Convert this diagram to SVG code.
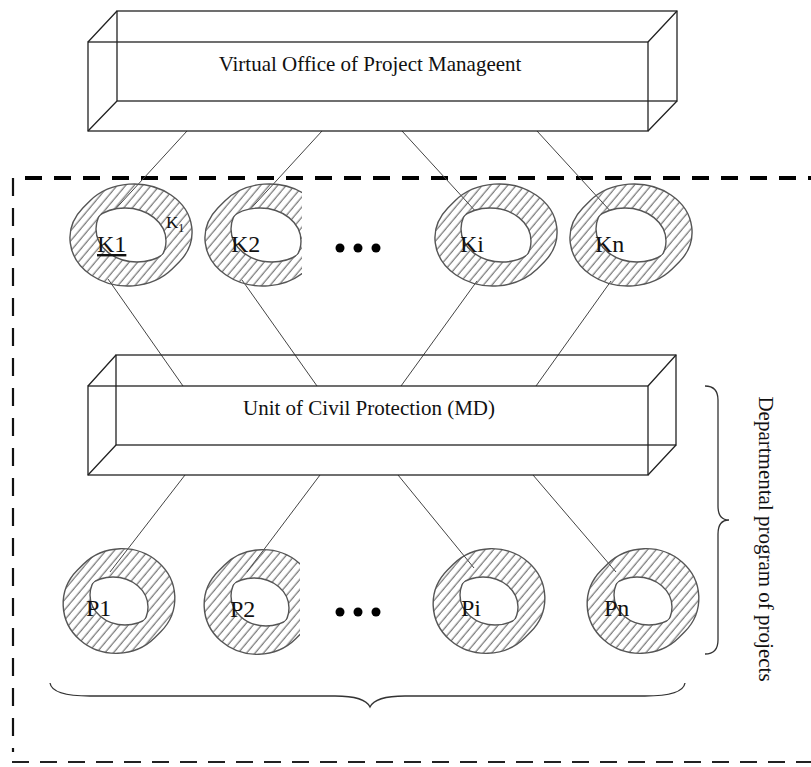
<svg xmlns="http://www.w3.org/2000/svg" width="811" height="767" viewBox="0 0 811 767">
<style>
.box{fill:none;stroke:#222;stroke-width:1.3}
.conn{stroke:#444;stroke-width:1;fill:none}
.rim{fill:url(#hatch);stroke:#555;stroke-width:1.4}
.hole{fill:#fff;stroke:#555;stroke-width:1.4}
.hline{fill:none;stroke:#555;stroke-width:1.4}
.lbl{font-family:"Liberation Serif","Times New Roman",serif;font-size:24px;fill:#111}
.ttl{font-family:"Liberation Serif","Times New Roman",serif;font-size:21px;fill:#111}
.dot{fill:#000}
.brace{fill:none;stroke:#333;stroke-width:1.3}
</style>
<defs>
<pattern id="hatch" patternUnits="userSpaceOnUse" width="6.5" height="6.5" patternTransform="rotate(40)">
<line x1="3" y1="-1" x2="3" y2="7.5" stroke="#555" stroke-width="1"/>
</pattern>
<clipPath id="cKf"><ellipse cx="-6" cy="6" rx="41" ry="33"/></clipPath>
<clipPath id="cKb"><ellipse cx="6" cy="-6" rx="41" ry="33"/></clipPath>
<clipPath id="cPf"><ellipse cx="-6" cy="6" rx="35" ry="30"/></clipPath>
<clipPath id="cPb"><ellipse cx="6" cy="-6" rx="35" ry="30"/></clipPath>
<clipPath id="cutK2"><rect x="0" y="150" width="302" height="200"/></clipPath>
<clipPath id="cutP2"><rect x="0" y="520" width="300" height="200"/></clipPath>
<g id="ringK">
<path class="rim" d="M-48.18,-27.10 L-41.18,-34.10 A58,48 0 0 1 48.18,27.10 L41.18,34.10 A58,48 0 0 1 -48.18,-27.10 Z"/>
<ellipse class="hole" cx="-6" cy="6" rx="41" ry="33" clip-path="url(#cKb)"/>
<ellipse class="hline" cx="6" cy="-6" rx="41" ry="33" clip-path="url(#cKf)"/>
</g>
<g id="ringP">
<path class="rim" d="M-41.73,-30.79 L-35.73,-36.79 A53,49.5 0 0 1 41.73,30.79 L35.73,36.79 A53,49.5 0 0 1 -41.73,-30.79 Z"/>
<ellipse class="hole" cx="-6" cy="6" rx="35" ry="30" clip-path="url(#cPb)"/>
<ellipse class="hline" cx="6" cy="-6" rx="35" ry="30" clip-path="url(#cPf)"/>
</g>
</defs>
<rect width="811" height="767" fill="#fff"/>

<g id="frame">
<line x1="25" y1="178" x2="811" y2="178" stroke="#000" stroke-width="4" stroke-dasharray="17 12"/>
<line x1="13" y1="178" x2="13" y2="752" stroke="#111" stroke-width="2.2" stroke-dasharray="18 12"/>
<line x1="12" y1="762" x2="811" y2="762" stroke="#222" stroke-width="1.8" stroke-dasharray="17 11"/>
</g>

<g id="connectors">
<line class="conn" x1="187" y1="131" x2="110" y2="215"/>
<line class="conn" x1="322" y1="131" x2="245" y2="215"/>
<line class="conn" x1="402" y1="131" x2="478" y2="214"/>
<line class="conn" x1="537" y1="131" x2="613" y2="214"/>
<line class="conn" x1="108" y1="279" x2="183" y2="386"/>
<line class="conn" x1="242" y1="280" x2="317" y2="386"/>
<line class="conn" x1="477" y1="281" x2="401" y2="386"/>
<line class="conn" x1="611" y1="281" x2="536" y2="386"/>
<line class="conn" x1="185" y1="475" x2="110" y2="572"/>
<line class="conn" x1="320" y1="475" x2="247" y2="572"/>
<line class="conn" x1="398" y1="475" x2="474" y2="568"/>
<line class="conn" x1="533" y1="475" x2="616" y2="572"/>
</g>

<g id="office">
<rect class="box" x="117" y="11" width="560" height="90"/>
<rect class="box" x="88" y="42" width="560" height="89"/>
<path class="box" d="M88,42 L117,11 M648,42 L677,11 M648,131 L677,101 M88,131 L117,101"/>
<text class="ttl" x="370" y="71" text-anchor="middle">Virtual Office of Project Manageent</text>
</g>

<g id="unit">
<rect class="box" x="116" y="355" width="560" height="90"/>
<rect class="box" x="88" y="386" width="560" height="89"/>
<path class="box" d="M88,386 L116,355 M648,386 L676,355 M648,475 L676,445 M88,475 L116,445"/>
<text class="ttl" x="369" y="415" text-anchor="middle">Unit of Civil Protection (MD)</text>
</g>

<g id="K1">
<use href="#ringK" x="131" y="235"/>
<text class="lbl" x="97" y="252" text-decoration="underline">K1</text>
<text class="lbl" x="166" y="228" style="font-size:17px">K<tspan dy="4" style="font-size:12px">1</tspan></text>
</g>
<g id="K2" clip-path="url(#cutK2)">
<use href="#ringK" x="266" y="235"/>
<text class="lbl" x="231" y="252">K2</text>
</g>
<g id="Ki">
<use href="#ringK" x="496" y="235"/>
<text class="lbl" x="460" y="252">Ki</text>
</g>
<g id="Kn">
<use href="#ringK" x="631" y="235"/>
<text class="lbl" x="595" y="252">Kn</text>
</g>
<g id="dotsK">
<circle class="dot" cx="340" cy="248" r="4.5"/>
<circle class="dot" cx="358" cy="248" r="4.5"/>
<circle class="dot" cx="376" cy="248" r="4.5"/>
</g>

<g id="P1">
<use href="#ringP" x="119" y="601"/>
<text class="lbl" x="86" y="616">P1</text>
</g>
<g id="P2" clip-path="url(#cutP2)">
<use href="#ringP" x="260" y="602"/>
<text class="lbl" x="230" y="617">P2</text>
</g>
<g id="Pi">
<use href="#ringP" x="489" y="601"/>
<text class="lbl" x="461" y="616">Pi</text>
</g>
<g id="Pn">
<use href="#ringP" x="643" y="601"/>
<text class="lbl" x="604" y="616">Pn</text>
</g>
<g id="dotsP">
<circle class="dot" cx="340" cy="612" r="4.5"/>
<circle class="dot" cx="358" cy="612" r="4.5"/>
<circle class="dot" cx="376" cy="612" r="4.5"/>
</g>

<g id="braceRight">
<path class="brace" d="M705,386 Q718,386 718,400 L718,506 Q718,520 729,520 Q718,520 718,534 L718,640 Q718,654 705,654"/>
<text class="ttl" transform="translate(759,539) rotate(90)" text-anchor="middle">Departmental program of  projects</text>
</g>
<g id="braceBottom">
<path class="brace" d="M50,683 Q52,696 90,696 L335,696 Q365,696 370,707 Q375,696 405,696 L645,696 Q683,696 685,683"/>
</g>
</svg>
